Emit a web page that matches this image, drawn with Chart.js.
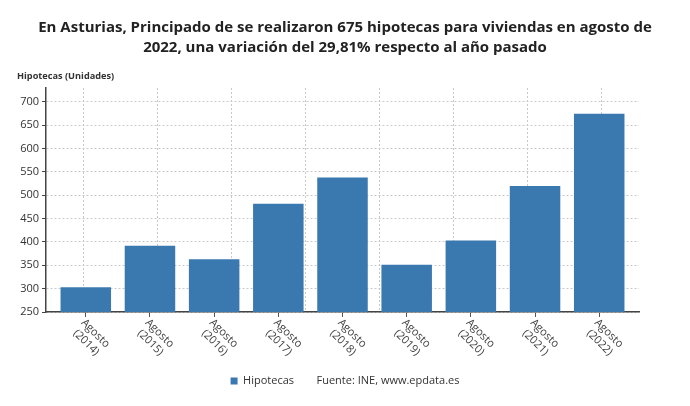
<!DOCTYPE html>
<html lang="es">
<head>
  <meta charset="UTF-8" />
  <title>Hipotecas - Asturias</title>
  <script src="https://cdn.jsdelivr.net/npm/chart.js"></script>
  <style>
    html, body { margin: 0; padding: 0; background: #fff; }
    .chart-box { width: 690px; height: 406px; }
  </style>
</head>
<body>
  <div class="chart-box"><canvas id="barChart"></canvas></div>

  <script>
    // values
    const categories = [
      ['Agosto', '(2014)'], ['Agosto', '(2015)'], ['Agosto', '(2016)'],
      ['Agosto', '(2017)'], ['Agosto', '(2018)'], ['Agosto', '(2019)'],
      ['Agosto', '(2020)'], ['Agosto', '(2021)'], ['Agosto', '(2022)']
    ];
    const hipotecas = [303, 392, 363, 482, 538, 351, 403, 520, 675];
    const yTicks = [250, 300, 350, 400, 450, 500, 550, 600, 650, 700];
    const gridSteps = [0, 1, 2, 3, 4, 5, 6, 7, 8];

    const titleLines = [
      'En Asturias, Principado de se realizaron 675 hipotecas para viviendas en agosto de',
      '2022, una variación del 29,81% respecto al año pasado'
    ];
    const yTitle = 'Hipotecas (Unidades)';
    const source = 'Fuente: INE, www.epdata.es';

    Chart.defaults.font.family = "'Open Sans', sans-serif";

    // rotated two-line labels under each bar
    const xLabels = {
      id: 'xLabels',
      afterDraw(chart) {
        const xs = chart.scales.x;
        const ctx = chart.ctx;
        ctx.save();
        ctx.font = "11px 'Open Sans', sans-serif";
        ctx.fillStyle = '#444';
        ctx.textAlign = 'center';
        ctx.textBaseline = 'middle';
        categories.forEach(function(lines, i) {
          const px = xs.getPixelForValue(i);
          ctx.save();
          ctx.translate(px + 5, xs.top + 26);
          ctx.rotate(Math.PI / 4);
          lines.forEach(function(t, k) {
            ctx.fillText(t, 0, (k - (lines.length - 1) / 2) * 13);
          });
          ctx.restore();
        });
        ctx.restore();
      }
    };

    var ctx = document.getElementById('barChart').getContext('2d');
    new Chart(ctx, {
      type: 'bar',
      data: {
        datasets: [{
          label: 'Hipotecas',
          data: hipotecas.map(function(v, i) { return { x: i, y: v }; }),
          backgroundColor: '#3a78b0',
          borderWidth: 0,
          categoryPercentage: 1,
          barPercentage: 0.787
        }]
      },
      options: {
        responsive: true,
        maintainAspectRatio: false,
        animation: false,
        layout: { padding: { left: 17, right: 17, top: 0, bottom: 9.5 } },
        scales: {
          x: {
            type: 'linear',
            position: 'bottom',
            offset: false,
            min: -0.62,
            max: 8.62,
            afterBuildTicks: function(s) { s.ticks = categories.map(function(c, i) { return { value: i }; }); },
            afterFit: function(s) { s.height = 53.5; },
            ticks: { display: false },
            grid: { display: true, offset: false, drawOnChartArea: false, drawTicks: true, tickLength: 5, tickColor: '#555', tickWidth: 1 },
            border: { display: true, color: '#444', width: 1.5 }
          },
          xg: {
            type: 'linear',
            position: 'bottom',
            offset: false,
            min: 0,
            max: 8,
            afterBuildTicks: function(s) { s.ticks = gridSteps.map(function(v) { return { value: v }; }); },
            ticks: { display: false },
            grid: { color: '#c8c8c8', drawTicks: false },
            border: { display: false, dash: [2, 2] }
          },
          y: {
            min: 250,
            max: 730,
            afterBuildTicks: function(s) { s.ticks = yTicks.map(function(v) { return { value: v }; }); },
            afterFit: function(s) { s.width = 29; },
            ticks: { color: '#333', font: { size: 11 }, padding: 3 },
            grid: { color: '#c8c8c8', tickLength: 4, tickColor: '#444', tickBorderDash: [] },
            border: { display: true, color: '#444', width: 1.5, dash: [2, 2] }
          },
          yr: {
            type: 'linear',
            position: 'right',
            afterFit: function(s) { s.width = 34; },
            ticks: { display: false },
            grid: { display: false },
            border: { display: false }
          }
        },
        plugins: {
          title: {
            display: true,
            text: titleLines,
            color: '#222',
            font: { size: 15, weight: 'bold', lineHeight: 1.3 },
            padding: { top: 18, bottom: 13 }
          },
          subtitle: {
            display: true,
            text: yTitle,
            align: 'start',
            color: '#333',
            font: { size: 9.2, weight: 'bold', lineHeight: 1.3 },
            padding: { top: 0, bottom: 6 }
          },
          legend: {
            position: 'bottom',
            onClick: null,
            labels: {
              boxWidth: 7,
              boxHeight: 7,
              color: '#333',
              font: { size: 11 },
              padding: 10,
              generateLabels: function(chart) {
                const items = Chart.defaults.plugins.legend.labels.generateLabels(chart);
                items.push({ text: source, fillStyle: 'rgba(0,0,0,0)', strokeStyle: 'rgba(0,0,0,0)', lineWidth: 0, hidden: false, datasetIndex: -1 });
                return items;
              }
            }
          },
          tooltip: { enabled: false }
        }
      },
      plugins: [xLabels]
    });
  </script>
</body>
</html>
